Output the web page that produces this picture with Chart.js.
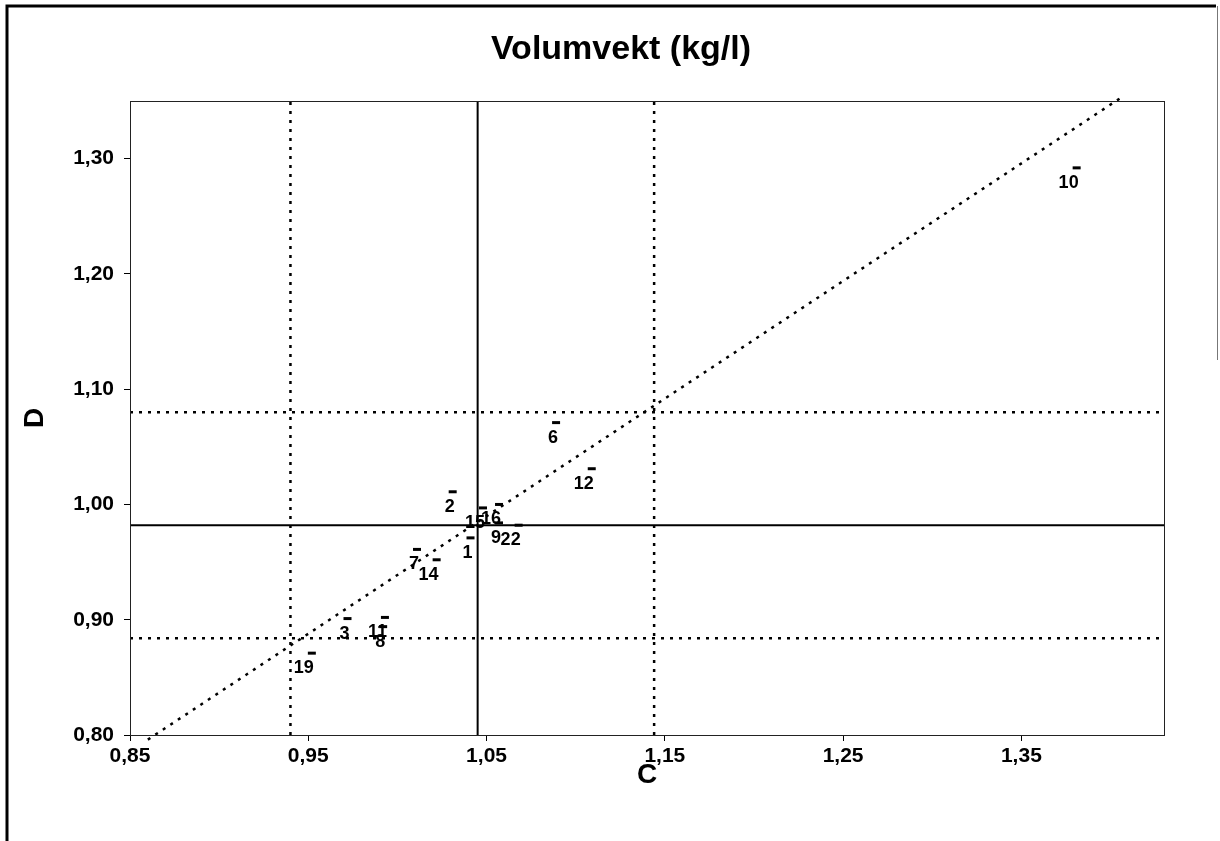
<!DOCTYPE html>
<html>
<head>
<meta charset="utf-8">
<title>Volumvekt (kg/l)</title>
<script src="https://cdn.jsdelivr.net/npm/chart.js@4.4.1/dist/chart.umd.min.js"></script>
<style>
    html, body { margin: 0; padding: 0; background: #fff; }
    #wrap { width: 1220px; height: 841px; }
</style>
</head>
<body>
<div id="wrap"><canvas id="volum-chart" width="1220" height="841"></canvas></div>
<script>
// Prøvenummer og målte verdier (C på x-aksen, D på y-aksen)
const sampleLabels = ['1', '2', '3', '6', '7', '8', '9', '10', '11', '12', '14', '15', '16', '19', '22'];
const valuesC = [1.041, 1.031, 0.972, 1.089, 1.011, 0.992, 1.057, 1.381, 0.993, 1.109, 1.022, 1.048, 1.057, 0.952, 1.068];
const valuesD = [0.971, 1.011, 0.901, 1.071, 0.961, 0.894, 0.984, 1.292, 0.902, 1.031, 0.952, 0.997, 1.000, 0.871, 0.982];

// Akser
const xTicks = [0.85, 0.95, 1.05, 1.15, 1.25, 1.35];
const yTicks = [0.80, 0.90, 1.00, 1.10, 1.20, 1.30];
const xRange = [0.85, 1.43];
const yRange = [0.80, 1.35];

// Middelverdi og grenser
const limitsC = [0.940, 1.045, 1.144];
const limitsD = [0.884, 0.982, 1.080];

// Trendlinje (endepunkter)
const trendC = [0.860, 1.407];
const trendD = [0.796, 1.354];

const chartTitle = 'Volumvekt (kg/l)';
const FONT = "'Liberation Sans', Arial, sans-serif";
const fmt = (v) => v.toFixed(2).replace('.', ',');

// Loddrette og vannrette referanselinjer
function refLines() {
    const sets = [];
    limitsC.forEach((c, i) => {
        sets.push({
            type: 'line',
            data: [{ x: c, y: yRange[0] }, { x: c, y: yRange[1] }],
            borderColor: '#000',
            borderWidth: i === 1 ? 2 : 2.5,
            borderDash: i === 1 ? [] : [3, 6],
            pointRadius: 0
        });
    });
    limitsD.forEach((d, i) => {
        sets.push({
            type: 'line',
            data: [{ x: xRange[0], y: d }, { x: xRange[1], y: d }],
            borderColor: '#000',
            borderWidth: i === 1 ? 2 : 2.5,
            borderDash: i === 1 ? [] : [3, 6],
            pointRadius: 0
        });
    });
    return sets;
}

// Tall under hvert punkt
const labelPlugin = {
    id: 'sampleLabels',
    afterDatasetsDraw(chart) {
        const { ctx, scales } = chart;
        ctx.save();
        ctx.font = 'bold 18px ' + FONT;
        ctx.fillStyle = '#000';
        ctx.textAlign = 'right';
        ctx.textBaseline = 'middle';
        sampleLabels.forEach((lab, i) => {
            const px = scales.x.getPixelForValue(valuesC[i]);
            const py = scales.y.getPixelForValue(valuesD[i]);
            ctx.fillText(lab, px + 2, py + 15);
        });
        ctx.restore();
    }
};

// Tittel, ramme rundt plottet og rundt hele figuren
const framePlugin = {
    id: 'frames',
    afterDraw(chart) {
        const { ctx, chartArea: a } = chart;
        ctx.save();
        ctx.fillStyle = '#000';
        ctx.font = 'bold 34px ' + FONT;
        ctx.textAlign = 'center';
        ctx.textBaseline = 'middle';
        ctx.fillText(chartTitle, 621, 50);

        ctx.strokeStyle = '#222';
        ctx.lineWidth = 1;
        ctx.strokeRect(a.left + 0.5, a.top + 0.5, a.right - a.left, a.bottom - a.top);
        ctx.strokeStyle = '#000';
        ctx.lineWidth = 3;
        ctx.beginPath();
        ctx.moveTo(7, 860);
        ctx.lineTo(7, 6);
        ctx.lineTo(1216, 6);
        ctx.stroke();
        ctx.lineWidth = 1;
        ctx.strokeStyle = '#777';
        ctx.beginPath();
        ctx.moveTo(1217.5, 6);
        ctx.lineTo(1217.5, 360);
        ctx.stroke();
        ctx.restore();
    }
};

function initVolumChart() {
    const ctx = document.getElementById('volum-chart').getContext('2d');
    return new Chart(ctx, {
        type: 'scatter',
        data: {
            datasets: [
                ...refLines(),
                {
                    type: 'line',
                    data: trendC.map((c, i) => ({ x: c, y: trendD[i] })),
                    borderColor: '#000',
                    borderWidth: 2.5,
                    borderDash: [3, 6],
                    pointRadius: 0,
                    clip: 6
                },
                {
                    label: 'Volumvekt',
                    data: valuesC.map((c, i) => ({ x: c, y: valuesD[i] })),
                    pointStyle: 'line',
                    pointRadius: 4,
                    borderWidth: 3,
                    borderColor: '#000',
                    backgroundColor: '#000'
                }
            ]
        },
        options: {
            responsive: false,
            animation: false,
            devicePixelRatio: 1,
            layout: { padding: { top: 101, right: 56, bottom: 0, left: 0 } },
            plugins: {
                legend: { display: false },
                tooltip: { enabled: false },
                title: { display: false }
            },
            scales: {
                x: {
                    type: 'linear',
                    min: xRange[0],
                    max: xRange[1],
                    afterBuildTicks: (scale) => { scale.ticks = xTicks.map(v => ({ value: v })); },
                    afterFit: (scale) => { scale.height = 106; },
                    ticks: {
                        color: '#000',
                        font: { family: FONT, size: 21, weight: 'bold' },
                        padding: 3,
                        maxRotation: 0,
                        callback: (v) => fmt(v)
                    },
                    grid: { drawOnChartArea: false, color: '#000', tickLength: 6 },
                    border: { color: '#000', width: 1 },
                    title: {
                        display: true,
                        text: 'C',
                        color: '#000',
                        font: { family: FONT, size: 28, weight: 'bold' },
                        padding: { top: 0, bottom: 49 }
                    }
                },
                y: {
                    type: 'linear',
                    min: yRange[0],
                    max: yRange[1],
                    afterBuildTicks: (scale) => { scale.ticks = yTicks.map(v => ({ value: v })); },
                    afterFit: (scale) => { scale.width = 130; },
                    ticks: {
                        color: '#000',
                        font: { family: FONT, size: 21, weight: 'bold' },
                        padding: 10,
                        callback: (v) => fmt(v)
                    },
                    grid: { drawOnChartArea: false, color: '#000', tickLength: 6 },
                    border: { color: '#000', width: 1 },
                    title: {
                        display: true,
                        text: 'D',
                        color: '#000',
                        font: { family: FONT, size: 28, weight: 'bold' },
                        padding: { top: 18, bottom: 0 }
                    }
                }
            }
        },
        plugins: [labelPlugin, framePlugin]
    });
}

initVolumChart();
</script>
</body>
</html>
